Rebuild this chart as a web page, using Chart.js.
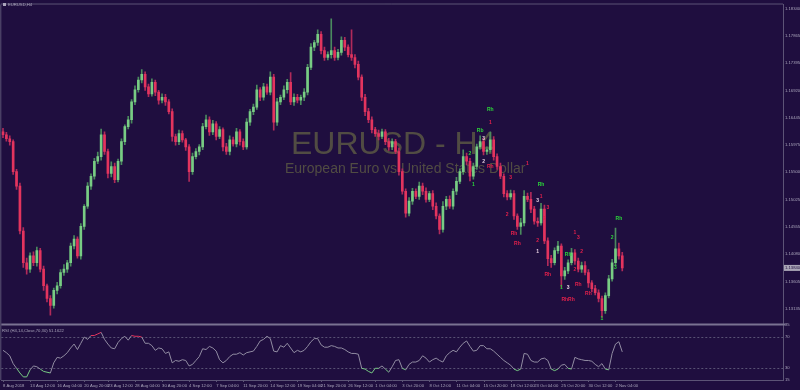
<!DOCTYPE html>
<html>
<head>
<meta charset="utf-8">
<script src="https://cdn.jsdelivr.net/npm/chart.js@4.4.0/dist/chart.umd.min.js"></script>
<style>
html, body { margin: 0; padding: 0; background: #1f0e3f; }
canvas { display: block; }
</style>
</head>
<body>
<canvas id="chart" width="800" height="390"></canvas>
<script>
// ---- data (EURUSD, 8h resolution) ----

const firstOpen = 1.1620;

const closes = [
    1.1615, 1.1608, 1.1603, 1.1551, 1.1526, 1.1448, 1.1393, 1.1382, 1.1405, 1.1393,
    1.1414, 1.1382, 1.1353, 1.1331, 1.1319, 1.1345, 1.1353, 1.1376, 1.1382, 1.1393,
    1.1422, 1.1434, 1.1405, 1.1456, 1.1491, 1.1526, 1.1543, 1.1569, 1.1577, 1.1615,
    1.1586, 1.1548, 1.1560, 1.1537, 1.1569, 1.1603, 1.1629, 1.1641, 1.1672, 1.1693,
    1.1710, 1.1720, 1.1698, 1.1686, 1.1706, 1.1689, 1.1675, 1.1680, 1.1672, 1.1655,
    1.1612, 1.1603, 1.1617, 1.1606, 1.1594, 1.1551, 1.1577, 1.1586, 1.1594, 1.1629,
    1.1641, 1.1620, 1.1634, 1.1612, 1.1624, 1.1594, 1.1586, 1.1606, 1.1599, 1.1620,
    1.1603, 1.1594, 1.1637, 1.1655, 1.1663, 1.1693, 1.1680, 1.1698, 1.1689, 1.1715,
    1.1637, 1.1672, 1.1680, 1.1693, 1.1706, 1.1672, 1.1680, 1.1675, 1.1680, 1.1689,
    1.1732, 1.1767, 1.1775, 1.1789, 1.1761, 1.1749, 1.1754, 1.1761, 1.1749, 1.1758,
    1.1779, 1.1767, 1.1754, 1.1749, 1.1737, 1.1715, 1.1680, 1.1655, 1.1641, 1.1624,
    1.1617, 1.1612, 1.1620, 1.1603, 1.1594, 1.1603, 1.1586, 1.1551, 1.1517, 1.1479,
    1.1500, 1.1517, 1.1508, 1.1526, 1.1517, 1.1503, 1.1513, 1.1491, 1.1474, 1.1451,
    1.1491, 1.1503, 1.1491, 1.1517, 1.1534, 1.1551, 1.1577, 1.1569, 1.1543, 1.1560,
    1.1594, 1.1603, 1.1586, 1.1589, 1.1606, 1.1577, 1.1560, 1.1543, 1.1513, 1.1507,
    1.1513, 1.1474, 1.1456, 1.1462, 1.1508, 1.1503, 1.1486, 1.1465, 1.1462, 1.1486,
    1.1431, 1.1400, 1.1393, 1.1414, 1.1422, 1.1370, 1.1379, 1.1393, 1.1410, 1.1396,
    1.1382, 1.1388, 1.1376, 1.1358, 1.1348, 1.1341, 1.1331, 1.1310, 1.1336, 1.1365,
    1.1393, 1.1417, 1.1405, 1.1384
];

// wick lengths in pips above / below the body
const wickUp = [
    6, 4, 5, 3, 4, 5, 6, 8, 5, 7,
    6, 4, 5, 3, 5, 4, 6, 5, 8, 4,
    5, 6, 4, 5, 3, 6, 4, 5, 8, 10,
    5, 4, 8, 6, 4, 5, 3, 6, 4, 7,
    5, 8, 4, 5, 6, 4, 3, 6, 5, 4,
    5, 4, 6, 5, 3, 4, 6, 5, 4, 6,
    8, 5, 6, 4, 5, 3, 6, 7, 5, 6,
    4, 5, 6, 4, 5, 8, 4, 6, 5, 9,
    5, 6, 4, 7, 5, 17, 6, 5, 4, 6,
    5, 6, 4, 8, 5, 6, 5, 55, 6, 5,
    6, 5, 4, 43, 5, 6, 4, 5, 6, 5,
    4, 6, 5, 4, 6, 5, 4, 6, 5, 4,
    6, 5, 4, 7, 5, 6, 4, 5, 6, 4,
    8, 5, 6, 4, 7, 5, 12, 6, 5, 6,
    5, 10, 6, 5, 14, 6, 5, 6, 4, 5,
    6, 5, 4, 8, 10, 6, 12, 5, 6, 10,
    7, 5, 6, 5, 8, 4, 6, 5, 8, 6,
    5, 6, 7, 5, 4, 6, 5, 4, 5, 6,
    6, 36, 10, 6
];

const wickDn = [
    5, 4, 6, 5, 6, 5, 8, 9, 6, 5,
    6, 5, 8, 6, 17, 5, 6, 4, 5, 6,
    6, 5, 4, 6, 5, 4, 6, 5, 4, 6,
    5, 8, 6, 5, 4, 6, 5, 4, 6, 5,
    4, 5, 6, 5, 4, 6, 7, 5, 6, 4,
    8, 6, 5, 4, 6, 17, 5, 4, 6, 5,
    4, 6, 5, 6, 4, 7, 5, 6, 4, 5,
    6, 5, 4, 6, 5, 4, 6, 5, 4, 5,
    14, 6, 5, 4, 6, 5, 6, 5, 8, 6,
    5, 4, 6, 5, 6, 5, 4, 6, 5, 4,
    5, 6, 4, 5, 6, 5, 6, 7, 5, 6,
    5, 6, 4, 5, 6, 5, 4, 6, 5, 7,
    5, 6, 4, 5, 6, 5, 4, 6, 5, 8,
    5, 6, 4, 5, 6, 4, 5, 6, 8, 5,
    5, 4, 6, 5, 4, 6, 5, 4, 6, 5,
    4, 6, 5, 14, 5, 4, 6, 5, 6, 4,
    5, 12, 8, 4, 5, 20, 6, 5, 4, 6,
    5, 6, 4, 8, 5, 4, 6, 12, 5, 4,
    4, 5, 6, 5
];

const rsi = [
    53, 50, 46, 36, 30, 24, 19, 19, 28, 33,
    32, 29, 26, 25, 24, 37, 44, 43, 46, 50,
    56, 61, 54, 62, 70, 67, 72, 72, 74, 76,
    67, 61, 56, 55, 63, 68, 71, 66, 72, 71,
    71, 70, 62, 62, 59, 53, 56, 55, 49, 51,
    37, 40, 39, 41, 40, 33, 35, 40, 45, 55,
    54, 58, 56, 52, 41, 37, 40, 45, 48, 48,
    50, 47, 50, 51, 52, 58, 65, 67, 71, 68,
    52, 51, 59, 57, 62, 56, 50, 53, 51, 53,
    58, 64, 68, 68, 60, 57, 57, 59, 58, 56,
    56, 54, 51, 49, 49, 48, 30, 29, 26, 24,
    30, 30, 33, 29, 25, 32, 40, 41, 30, 28,
    35, 38, 38, 40, 46, 43, 38, 41, 43, 40,
    38, 46, 50, 53, 51, 57, 62, 65, 58, 52,
    53, 59, 59, 55, 55, 52, 48, 44, 40, 37,
    34, 29, 27, 29, 49, 48, 40, 38, 38, 42,
    43, 40, 29, 27, 29, 34, 35, 30, 29, 44,
    42, 41, 40, 40, 39, 35, 32, 36, 29, 28,
    49, 61, 64, 51
];

const priceTicks = [
    1.18340, 1.18105, 1.17865, 1.17630, 1.17395, 1.17155, 1.16920, 1.16685,
    1.16445, 1.16210, 1.15975, 1.15735, 1.15500, 1.15265, 1.15025, 1.14790,
    1.14555, 1.14315, 1.14080, 1.13845, 1.13605, 1.13370, 1.13135, 1.12895
];
const rsiTicks = [85, 70, 30, 15];

const timeLabels = [
    '8 Aug 2018', '13 Aug 12:00', '16 Aug 04:00', '20 Aug 20:00', '23 Aug 12:00',
    '28 Aug 04:00', '30 Aug 20:00', '4 Sep 12:00', '7 Sep 04:00', '11 Sep 20:00',
    '14 Sep 12:00', '19 Sep 04:00', '21 Sep 20:00', '26 Sep 12:00', '1 Oct 04:00',
    '3 Oct 20:00', '8 Oct 12:00', '11 Oct 04:00', '15 Oct 20:00', '18 Oct 12:00',
    '23 Oct 04:00', '25 Oct 20:00', '30 Oct 12:00', '2 Nov 04:00'
];
const timeIdx = [0, 8, 16, 24, 31, 39, 47, 55, 63, 71, 79, 87, 94, 102, 110,
    118, 126, 134, 142, 150, 157, 165, 173, 181];

// wave markers: candle index, price, text, kind
const markIdx = [144, 144, 141, 142, 138, 142, 144, 155, 139, 150, 159, 159, 158, 161, 149, 160, 151, 158,
    152, 158, 169, 170, 171, 167, 161, 169, 165, 167, 170, 167, 173, 177, 182, 180, 181];
const markPrice = [1.1658, 1.1636, 1.1622, 1.1608, 1.1582, 1.1569, 1.1560, 1.1565, 1.1529, 1.1541, 1.1529,
    1.1508, 1.1500, 1.1489, 1.1476, 1.1470, 1.1443, 1.1432, 1.1426, 1.1412, 1.1446, 1.1437, 1.1412,
    1.1407, 1.1372, 1.1381, 1.1350, 1.1350, 1.1355, 1.1329, 1.1339, 1.1296, 1.1470, 1.1437, 1.1384];
const markText = ['Rh', '1', 'Rb', '3', '2', '2', 'Rh', '1', '1', '3', 'Rh', '1', '3', '3', '2', '2', 'Rh', '2',
    'Rh', '1', '1', '3', '2', 'Rh', 'Rh', '2', '1', '3', 'Rh', 'RhRh', 'Rh', '1', 'Rh', '2', '3'];
const markKind = ['g', 'r', 'g', 'w', 'g', 'w', 'r', 'r', 'g', 'r', 'g', 'r', 'w', 'r', 'r', 'r', 'r', 'r',
    'r', 'w', 'r', 'r', 'r', 'g', 'r', 'r', 'g', 'w', 'r', 'r', 'r', 'g', 'g', 'g', 'g'];

const slots = 231;

// ---- prepare candles ----

const opens = [firstOpen].concat(closes.slice(0, -1));
const highs = closes.map((c, i) => Math.max(c, opens[i]) + wickUp[i] / 10000);
const lows = closes.map((c, i) => Math.min(c, opens[i]) - wickDn[i] / 10000);
const isUp = closes.map((c, i) => c >= opens[i]);

const BG = '#1f0e3f';
const AXIS = '#5c5476';
const TXT = '#aaa5bb';
const RED = '#e3345e';
const GREEN = '#78cc84';
const markColors = { g: '#2bd63a', r: '#e3204c', w: '#e6cfe0' };

const labels = Array.from({ length: slots }, (_, i) => String(i));

const tinyFont = { family: 'Liberation Sans', size: 4.2 };

// ---- plugins ----

const watermark = {
    id: 'watermark',
    beforeDatasetsDraw(chart) {
        const ctx = chart.ctx;
        ctx.save();
        ctx.fillStyle = '#514c43';
        ctx.textBaseline = 'alphabetic';
        ctx.textAlign = 'left';
        ctx.font = '32px "Liberation Sans"';
        ctx.fillText('EURUSD - H4', 291, 154);
        ctx.font = '14px "Liberation Sans"';
        ctx.fillText('European Euro vs United States Dollar', 285, 173);
        ctx.restore();
    }
};

const frame = {
    id: 'frame',
    afterDatasetsDraw(chart) {
        const ctx = chart.ctx;
        const a = chart.chartArea;
        const y = chart.scales.y;
        const x = chart.scales.x;
        ctx.save();

        // wave markers
        ctx.font = 'bold 5px "Liberation Sans"';
        ctx.textAlign = 'center';
        ctx.textBaseline = 'middle';
        markIdx.forEach((idx, k) => {
            ctx.fillStyle = markColors[markKind[k]];
            ctx.fillText(markText[k], x.getPixelForValue(idx), y.getPixelForValue(markPrice[k]));
        });

        // outline and panel separator
        ctx.strokeStyle = AXIS;
        ctx.lineWidth = 1;
        ctx.beginPath();
        ctx.moveTo(a.left - 0.5, a.top - 0.5);
        ctx.lineTo(a.right, a.top - 0.5);
        ctx.moveTo(a.left - 0.5, a.top);
        ctx.lineTo(a.left - 0.5, a.bottom);
        ctx.stroke();

        ctx.strokeStyle = '#7a7292';
        ctx.lineWidth = 2;
        ctx.beginPath();
        ctx.moveTo(a.left, y.bottom + 1);
        ctx.lineTo(a.right + 2, y.bottom + 1);
        ctx.stroke();

        // small tick marks under the time labels
        ctx.strokeStyle = AXIS;
        ctx.lineWidth = 1;
        ctx.beginPath();
        timeIdx.forEach(i => {
            const px = Math.round(x.getPixelForValue(i)) + 0.5;
            ctx.moveTo(px, a.bottom);
            ctx.lineTo(px, a.bottom + 2);
        });
        ctx.stroke();

        // current price box
        const last = closes[closes.length - 1];
        const py = y.getPixelForValue(last);
        ctx.fillStyle = '#a9a5b6';
        ctx.fillRect(a.right + 1, py - 3, 17, 6);
        ctx.fillStyle = BG;
        ctx.font = '4.2px "Liberation Sans"';
        ctx.textAlign = 'left';
        ctx.fillText(last.toFixed(5), a.right + 2, py);

        // panel captions
        ctx.fillStyle = TXT;
        ctx.fillRect(3, 3, 3, 3);
        ctx.fillText('EURUSD,H4', 8, 4.5);
        ctx.fillText('RSI (H4,14,Close,70,30) 51.1622', 2, y.bottom + 7);
        ctx.restore();
    }
};

// ---- chart ----

const ctx = document.getElementById('chart').getContext('2d');

new Chart(ctx, {
    type: 'bar',
    data: {
        labels: labels,
        datasets: [
            {
                label: 'wicks',
                data: closes.map((c, i) => [lows[i], highs[i]]),
                backgroundColor: isUp.map(u => u ? '#4a8a5e' : '#b02a5a'),
                barThickness: 1,
                grouped: false,
                yAxisID: 'y',
                order: 3
            },
            {
                label: 'bodies',
                data: closes.map((c, i) => [opens[i], c]),
                backgroundColor: isUp.map(u => u ? GREEN : RED),
                barThickness: 2,
                minBarLength: 1,
                grouped: false,
                yAxisID: 'y',
                order: 2
            },
            {
                type: 'line',
                label: 'RSI',
                data: rsi,
                yAxisID: 'yRsi',
                borderColor: '#928da3',
                borderWidth: 1,
                pointRadius: 0,
                tension: 0,
                order: 1,
                segment: {
                    borderColor: c => {
                        const a = c.p0.parsed.y, b = c.p1.parsed.y;
                        if (a >= 70 && b >= 70) return RED;
                        if (a <= 30 && b <= 30) return GREEN;
                        return undefined;
                    }
                }
            }
        ]
    },
    options: {
        responsive: false,
        animation: false,
        devicePixelRatio: 1,
        layout: { padding: { top: 2, left: 1, right: 0, bottom: 0 } },
        plugins: {
            legend: { display: false },
            tooltip: { enabled: false }
        },
        scales: {
            x: {
                type: 'category',
                offset: true,
                grid: { display: false, drawTicks: false },
                border: { color: AXIS },
                ticks: {
                    autoSkip: false,
                    maxRotation: 0,
                    minRotation: 0,
                    align: 'start',
                    padding: 3,
                    color: TXT,
                    font: { family: 'Liberation Sans', size: 4.2 },
                    callback: (v, i) => {
                        const k = timeIdx.indexOf(i);
                        return k >= 0 ? timeLabels[k] : '';
                    }
                },
                afterFit: s => { s.height = 10; }
            },
            y: {
                type: 'linear',
                position: 'right',
                stack: 'panes',
                stackWeight: 321,
                min: 1.12878,
                max: 1.18409,
                beginAtZero: false,
                grid: { display: false, drawTicks: false },
                border: { color: AXIS },
                afterBuildTicks: s => { s.ticks = priceTicks.map(v => ({ value: v })); },
                ticks: {
                    color: TXT,
                    font: tinyFont,
                    padding: 2,
                    callback: v => Number(v).toFixed(5)
                },
                afterFit: s => { s.width = 17; }
            },
            yRsi: {
                type: 'linear',
                position: 'right',
                stack: 'panes',
                stackWeight: 57,
                min: 15,
                max: 87.5,
                grid: {
                    drawTicks: false,
                    color: c => (c.tick && (c.tick.value === 70 || c.tick.value === 30)) ? '#595274' : 'transparent'
                },
                border: { color: AXIS, dash: [2, 2] },
                afterBuildTicks: s => { s.ticks = rsiTicks.map(v => ({ value: v })); },
                ticks: {
                    color: TXT,
                    font: tinyFont,
                    padding: 2,
                    callback: v => String(v)
                },
                afterFit: s => { s.width = 17; }
            }
        }
    },
    plugins: [watermark, frame]
});
</script>
</body>
</html>
